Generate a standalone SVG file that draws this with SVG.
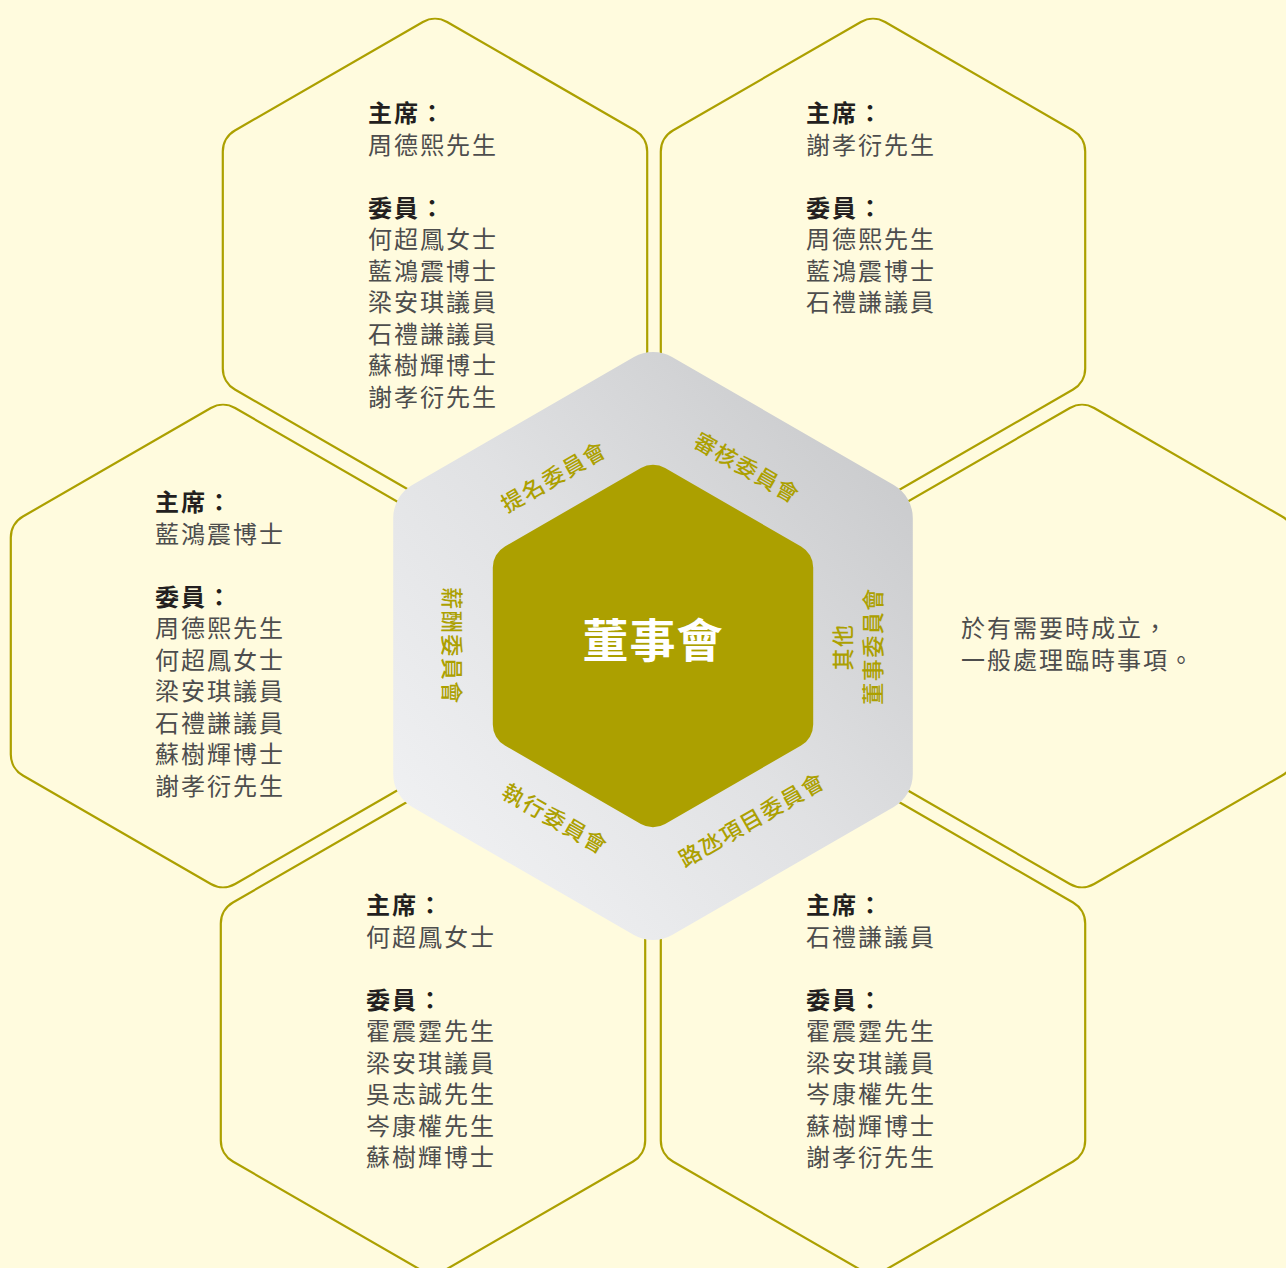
<svg xmlns="http://www.w3.org/2000/svg" xmlns:xlink="http://www.w3.org/1999/xlink" width="1286" height="1268" viewBox="0 0 1286 1268">
<defs>
<style>
.hex{fill:#FFFBDE;stroke:#ACA000;stroke-width:2.2}
.t{font-family:'Liberation Sans','Noto Sans CJK TC',sans-serif;font-size:24px;letter-spacing:2px}
.h{font-weight:700;fill:#231f20}
.n{font-weight:400;fill:#4d4d4d}
.ring{font-family:'Liberation Sans','Noto Sans CJK TC',sans-serif;font-size:22px;font-weight:500;fill:#ACA000;letter-spacing:1.5px;text-anchor:middle}
.title{font-family:'Liberation Sans','Noto Sans CJK TC',sans-serif;font-size:46px;font-weight:700;fill:#ffffff;text-anchor:middle;letter-spacing:1px}
</style>
<path id="ohex" class="hex" d="M -12.12,-238 A 24.2 24.2 0 0 1 12.12,-238 L 200.08,-129.5 A 24.2 24.2 0 0 1 212.2,-108.5 L 212.2,108.5 A 24.2 24.2 0 0 1 200.08,129.5 L 12.12,238 A 24.2 24.2 0 0 1 -12.12,238 L -200.08,129.5 A 24.2 24.2 0 0 1 -212.2,108.5 L -212.2,-108.5 A 24.2 24.2 0 0 1 -200.08,-129.5 Z"/>
<linearGradient id="ringGrad" x1="0" y1="1" x2="1" y2="0">
<stop offset="0" stop-color="#f4f5f7"/>
<stop offset="0.5" stop-color="#e0e1e3"/>
<stop offset="1" stop-color="#c4c5c7"/>
</linearGradient>
</defs>
<rect x="0" y="0" width="1286" height="1268" fill="#FFFBDE"/>

<g id="node-nomination">
<use xlink:href="#ohex" transform="translate(435,260)"/>
<text class="t"><tspan class="h" x="368" y="122">主席：</tspan><tspan class="n" x="368" y="153.5">周德熙先生</tspan><tspan class="h" x="368" y="216.5">委員：</tspan><tspan class="n" x="368" y="248">何超鳳女士</tspan><tspan class="n" x="368" y="279.5">藍鴻震博士</tspan><tspan class="n" x="368" y="311">梁安琪議員</tspan><tspan class="n" x="368" y="342.5">石禮謙議員</tspan><tspan class="n" x="368" y="374">蘇樹輝博士</tspan><tspan class="n" x="368" y="405.5">謝孝衍先生</tspan></text>
</g>

<g id="node-audit">
<use xlink:href="#ohex" transform="translate(873,260)"/>
<text class="t"><tspan class="h" x="806" y="122">主席：</tspan><tspan class="n" x="806" y="153.5">謝孝衍先生</tspan><tspan class="h" x="806" y="216.5">委員：</tspan><tspan class="n" x="806" y="248">周德熙先生</tspan><tspan class="n" x="806" y="279.5">藍鴻震博士</tspan><tspan class="n" x="806" y="311">石禮謙議員</tspan></text>
</g>

<g id="node-remuneration">
<use xlink:href="#ohex" transform="translate(223,646)"/>
<text class="t"><tspan class="h" x="155" y="511">主席：</tspan><tspan class="n" x="155" y="542.5">藍鴻震博士</tspan><tspan class="h" x="155" y="605.5">委員：</tspan><tspan class="n" x="155" y="637">周德熙先生</tspan><tspan class="n" x="155" y="668.5">何超鳳女士</tspan><tspan class="n" x="155" y="700">梁安琪議員</tspan><tspan class="n" x="155" y="731.5">石禮謙議員</tspan><tspan class="n" x="155" y="763">蘇樹輝博士</tspan><tspan class="n" x="155" y="794.5">謝孝衍先生</tspan></text>
</g>

<g id="node-other">
<use xlink:href="#ohex" transform="translate(1082,646)"/>
<text class="t"><tspan class="n" x="961" y="637">於有需要時成立，</tspan><tspan class="n" x="961" y="669">一般處理臨時事項。</tspan></text>
</g>

<g id="node-executive">
<use xlink:href="#ohex" transform="translate(433,1032)"/>
<text class="t"><tspan class="h" x="366" y="914">主席：</tspan><tspan class="n" x="366" y="945.5">何超鳳女士</tspan><tspan class="h" x="366" y="1008.5">委員：</tspan><tspan class="n" x="366" y="1040">霍震霆先生</tspan><tspan class="n" x="366" y="1071.5">梁安琪議員</tspan><tspan class="n" x="366" y="1103">吳志誠先生</tspan><tspan class="n" x="366" y="1134.5">岑康權先生</tspan><tspan class="n" x="366" y="1166">蘇樹輝博士</tspan></text>
</g>

<g id="node-cotai">
<use xlink:href="#ohex" transform="translate(873,1032)"/>
<text class="t"><tspan class="h" x="806" y="914">主席：</tspan><tspan class="n" x="806" y="945.5">石禮謙議員</tspan><tspan class="h" x="806" y="1008.5">委員：</tspan><tspan class="n" x="806" y="1040">霍震霆先生</tspan><tspan class="n" x="806" y="1071.5">梁安琪議員</tspan><tspan class="n" x="806" y="1103">岑康權先生</tspan><tspan class="n" x="806" y="1134.5">蘇樹輝博士</tspan><tspan class="n" x="806" y="1166">謝孝衍先生</tspan></text>
</g>

<g id="connectors"></g>

<g id="node-ring">
<path transform="translate(653,646)" fill="url(#ringGrad)" d="M -19.05,-289 A 38.1 38.1 0 0 1 19.05,-289 L 240.75,-161 A 38.1 38.1 0 0 1 259.8,-128 L 259.8,128 A 38.1 38.1 0 0 1 240.75,161 L 19.05,289 A 38.1 38.1 0 0 1 -19.05,289 L -240.75,161 A 38.1 38.1 0 0 1 -259.8,128 L -259.8,-128 A 38.1 38.1 0 0 1 -240.75,-161 Z"/>
<text class="ring" transform="translate(554,477) rotate(-30)" x="0" y="8">提名委員會</text>
<text class="ring" transform="translate(747,468) rotate(30)" x="0" y="8">審核委員會</text>
<text class="ring" transform="translate(452,646) rotate(90)" x="0" y="8">薪酬委員會</text>
<text class="ring" transform="translate(842.5,647) rotate(-90)" x="0" y="8">其他</text>
<text class="ring" transform="translate(872.5,646) rotate(-90)" x="0" y="8">董事委員會</text>
<text class="ring" transform="translate(555,819) rotate(30)" x="0" y="8">執行委員會</text>
<text class="ring" transform="translate(752,820) rotate(-30)" x="0" y="8">路氹項目委員會</text>
</g>

<g id="node-board">
<path transform="translate(653,646)" fill="#ACA000" d="M -12.12,-178 A 24.2 24.2 0 0 1 12.12,-178 L 148.08,-99.5 A 24.2 24.2 0 0 1 160.2,-78.5 L 160.2,78.5 A 24.2 24.2 0 0 1 148.08,99.5 L 12.12,178 A 24.2 24.2 0 0 1 -12.12,178 L -148.08,99.5 A 24.2 24.2 0 0 1 -160.2,78.5 L -160.2,-78.5 A 24.2 24.2 0 0 1 -148.08,-99.5 Z"/>
<text class="title" x="653" y="657">董事會</text>
</g>
</svg>
